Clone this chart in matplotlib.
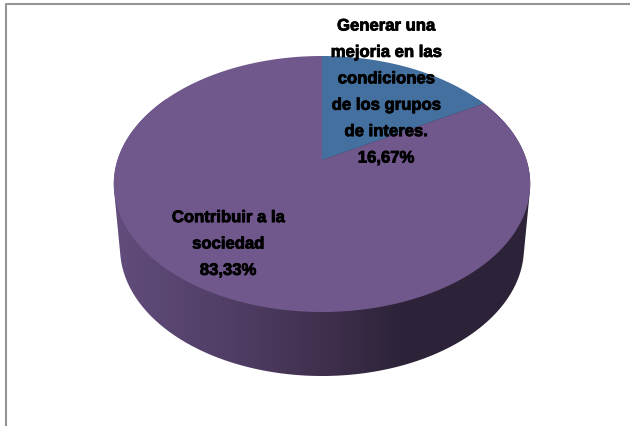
import matplotlib
matplotlib.use("Agg")
import matplotlib.pyplot as plt
from matplotlib.patches import Polygon
import matplotlib.patheffects as pe
import numpy as np

# share of answers, clockwise from 12 o'clock
labels = ["Generar una\nmejoria en las\ncondiciones\nde los grupos\nde interes.\n16,67%",
          "Contribuir a la\nsociedad\n83,33%"]
values = [16.67, 83.33]
colors = ["#44709f", "#71588c"]

# perspective of the disc, in pixels of the figure
cx, cy = 322, 161
persp = 0.1875
a_x, a_y = 204.5, 123.5
depth = 64
shrink = 0.97


def project(theta):
    u, v = np.sin(theta), np.cos(theta)
    w = 1 + persp * v
    return a_x * u / w, a_y * v / w


fig = plt.figure(figsize=(6.3, 4.27), dpi=100)
ax = fig.add_axes([0, 0, 1, 1])
ax.axis("off")

# frame: only top and left show in the crop
ax.plot([5.5, 5.5, 630], [427, 4.5, 4.5], color="#959595", lw=1.5)

# side wall: hull of the top and bottom rims, shaded left to right
angles = np.linspace(0, 2 * np.pi, 720)
dx, dy = project(angles)
rims = np.r_[np.c_[cx + dx, cy - dy], np.c_[cx + dx * shrink, cy - dy + depth]]
phi = np.linspace(0, 2 * np.pi, 1440)
hull = rims[np.argmax(rims @ np.c_[np.cos(phi), np.sin(phi)].T, axis=0)]

xs = np.arange(100, 541)
stops = [113, 230, 320, 400, 530]
shade = np.stack([np.interp(xs, stops, [0x62, 0x50, 0x40, 0x2d, 0x2c]),
                  np.interp(xs, stops, [0x4d, 0x3e, 0x30, 0x24, 0x23]),
                  np.interp(xs, stops, [0x7c, 0x65, 0x4f, 0x39, 0x38])], axis=-1) / 255
im = ax.imshow(shade[np.newaxis, :, :], extent=[100, 540, 400, 100], aspect="auto",
               interpolation="bilinear", zorder=2)
wall = Polygon(hull, closed=True, transform=ax.transData, fc="none", ec="none")
ax.add_patch(wall)
im.set_clip_path(wall)

# top face
edges = np.cumsum([0] + values) / sum(values) * 2 * np.pi
for i in range(len(values)):
    t = np.linspace(edges[i], edges[i + 1], 300)
    dx, dy = project(t)
    ax.fill(np.r_[cx, cx + dx], np.r_[cy, cy - dy], color=colors[i], lw=0, zorder=3)

ax.set_xlim(0, 630)
ax.set_ylim(427, 0)

heavy = [pe.withStroke(linewidth=0.6, foreground="#000000")]
ax.text(386, 93, labels[0], ha="center", va="center", fontsize=12, fontweight="bold",
        family="Liberation Sans", linespacing=1.95, color="#000000", zorder=4, path_effects=heavy)
ax.text(228, 245, labels[1], ha="center", va="center", fontsize=12, fontweight="bold",
        family="Liberation Sans", linespacing=1.95, color="#000000", zorder=4, path_effects=heavy)

fig.savefig("out.png", dpi=100)
